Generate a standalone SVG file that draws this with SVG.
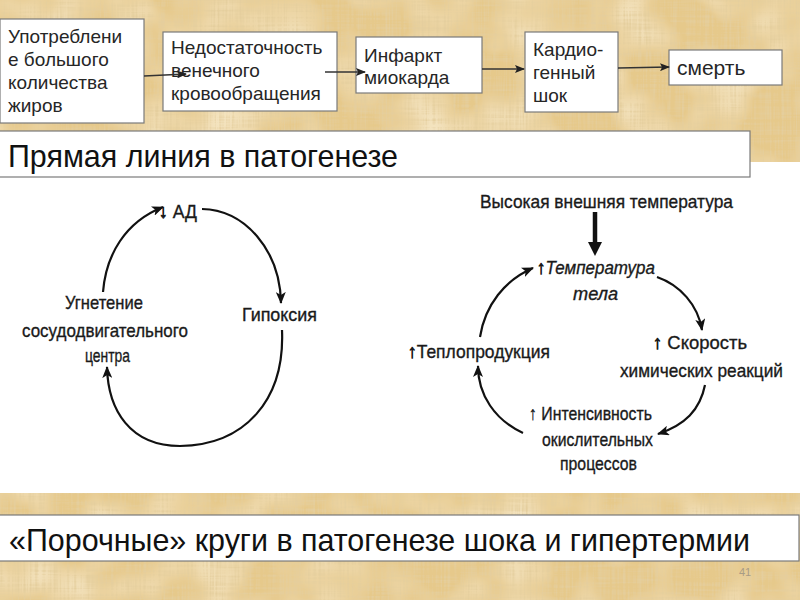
<svg xmlns="http://www.w3.org/2000/svg" width="800" height="600" viewBox="0 0 800 600">
<defs>
<filter id="papyrus" x="0" y="0" width="100%" height="100%" filterUnits="objectBoundingBox">
<feTurbulence type="fractalNoise" baseFrequency="0.5 0.015" numOctaves="3" seed="4" result="v"/>
<feTurbulence type="fractalNoise" baseFrequency="0.015 0.4" numOctaves="3" seed="9" result="h"/>
<feComposite in="v" in2="h" operator="arithmetic" k2="0.6" k3="0.45" result="n"/>
<feColorMatrix in="n" type="matrix" values="0 0 0 0 0.78  0 0 0 0 0.62  0 0 0 0 0.34  0 0 0 3.2 -1.45" result="fib"/>
<feTurbulence type="fractalNoise" baseFrequency="0.02 0.02" numOctaves="2" seed="2" result="p"/>
<feColorMatrix in="p" type="matrix" values="0 0 0 0 0.96  0 0 0 0 0.87  0 0 0 0 0.66  0 0 0 1.4 -0.55" result="light"/>
<feFlood flood-color="#e6c98b" result="base"/>
<feComposite in="light" in2="base" operator="over" result="b2"/>
<feComposite in="fib" in2="b2" operator="over"/>
</filter>
<marker id="ah" viewBox="0 0 12 10" refX="11" refY="5" markerWidth="12" markerHeight="10" markerUnits="userSpaceOnUse" orient="auto">
<path d="M0,0 L12,5 L0,10 L3,5 z" fill="#111"/>
</marker>
<marker id="sh" viewBox="0 0 10 8" refX="9" refY="4" markerWidth="10" markerHeight="8" markerUnits="userSpaceOnUse" orient="auto">
<path d="M0,0 L10,4 L0,8 L2,4 z" fill="#222"/>
</marker>
<style>
.box{fill:#fff;stroke:#7a7a7a;stroke-width:1.2}
.bt{font-family:"Liberation Sans",Arial,sans-serif;font-size:19px;fill:#262626}
.title{font-family:"Liberation Sans",Arial,sans-serif;font-size:32px;fill:#111}
.fig{font-family:"Liberation Sans Narrow","Liberation Sans",Arial,sans-serif;font-size:19px;fill:#1a1a1a;stroke:#1a1a1a;stroke-width:0.35}
.ar{font-family:"Liberation Sans",Arial,sans-serif;font-style:normal;font-weight:bold;stroke-width:0.8}
.it{font-style:italic}
.cyc{fill:none;stroke:#111;stroke-width:2.2;marker-end:url(#ah)}
.chain{fill:none;stroke:#333;stroke-width:1.6;marker-end:url(#sh)}
</style>
</defs>

<rect x="0" y="0" width="800" height="600" fill="#ffffff"/>
<rect x="0" y="0" width="800" height="162" filter="url(#papyrus)"/>
<rect x="0" y="493" width="800" height="107" filter="url(#papyrus)"/>

<g id="n1"><rect class="box" x="0" y="19" width="144" height="104"/>
<text class="bt" x="8" y="43">Употреблени</text>
<text class="bt" x="8" y="66">е большого</text>
<text class="bt" x="8" y="89">количества</text>
<text class="bt" x="8" y="112">жиров</text></g>

<g id="n2"><rect class="box" x="163" y="32" width="174" height="79"/>
<text class="bt" x="171" y="54">Недостаточность</text>
<text class="bt" x="171" y="77">венечного</text>
<text class="bt" x="171" y="100">кровообращения</text></g>

<g id="n3"><rect class="box" x="356" y="37" width="126" height="56"/>
<text class="bt" x="364" y="62">Инфаркт</text>
<text class="bt" x="364" y="84">миокарда</text></g>

<g id="n4"><rect class="box" x="525" y="32" width="93" height="80"/>
<text class="bt" x="533" y="56">Кардио-</text>
<text class="bt" x="533" y="79">генный</text>
<text class="bt" x="533" y="102">шок</text></g>

<g id="n5"><rect class="box" x="669" y="50" width="113" height="35"/>
<text class="bt" x="677" y="75" style="font-size:21px">смерть</text></g>

<g id="h1"><rect class="box" x="-1" y="131" width="751" height="46"/>
<text class="title" x="8" y="167" textLength="390" lengthAdjust="spacingAndGlyphs">Прямая линия в патогенезе</text></g>

<g id="h2"><rect class="box" x="-1" y="515" width="800" height="46"/>
<text class="title" x="9" y="551" textLength="741" lengthAdjust="spacingAndGlyphs">«Порочные» круги в патогенезе шока и гипертермии</text></g>

<text x="745" y="576" text-anchor="middle" style="font-family:'Liberation Sans',Arial,sans-serif;font-size:11px;fill:#a89c86">41</text>

<g id="s1"><text class="fig" x="159" y="218" textLength="38" lengthAdjust="spacingAndGlyphs"><tspan class="ar">↓</tspan> АД</text></g>
<g id="s2"><text class="fig" x="242" y="321" textLength="75" lengthAdjust="spacingAndGlyphs">Гипоксия</text></g>
<g id="s3">
<text class="fig" x="65" y="309" textLength="78" lengthAdjust="spacingAndGlyphs">Угнетение</text>
<text class="fig" x="22" y="337" textLength="166" lengthAdjust="spacingAndGlyphs">сосудодвигательного</text>
<text class="fig" x="85" y="362" textLength="45" lengthAdjust="spacingAndGlyphs">центра</text></g>

<g id="t0"><text class="fig" x="480" y="208" textLength="253" lengthAdjust="spacingAndGlyphs">Высокая внешняя температура</text></g>
<g id="t1"><text class="fig" x="537" y="274" textLength="118" lengthAdjust="spacingAndGlyphs"><tspan class="ar">↑</tspan><tspan class="it">Температура</tspan></text>
<text class="fig it" x="573" y="300" textLength="45" lengthAdjust="spacingAndGlyphs">тела</text></g>
<g id="t2"><text class="fig" x="653" y="349" textLength="94" lengthAdjust="spacingAndGlyphs"><tspan class="ar">↑</tspan> Скорость</text>
<text class="fig" x="620" y="377" textLength="163" lengthAdjust="spacingAndGlyphs">химических реакций</text></g>
<g id="t3"><text class="fig" x="529" y="420" textLength="123" lengthAdjust="spacingAndGlyphs">↑ Интенсивность</text>
<text class="fig" x="542" y="446" textLength="111" lengthAdjust="spacingAndGlyphs">окислительных</text>
<text class="fig" x="560" y="470" textLength="77" lengthAdjust="spacingAndGlyphs">процессов</text></g>
<g id="t4"><text class="fig" x="408" y="358" textLength="142" lengthAdjust="spacingAndGlyphs"><tspan class="ar">↑</tspan>Теплопродукция</text></g>

<g id="connectors">
<path class="chain" d="M144,76 L186,74"/>
<path class="chain" d="M325,72 L365,72"/>
<path class="chain" d="M482,69 L524,69"/>
<path class="chain" d="M618,68 L669,67"/>

<path class="cyc" d="M103,292 C106,255 125,222 163,207"/>
<path class="cyc" d="M202,209 C245,210 280,250 281,303"/>
<path class="cyc" d="M282,330 C285,400 245,445 180,446 C130,446 108,410 107,367"/>

<path d="M595,212 L595,244" stroke="#111" stroke-width="4.5" fill="none"/>
<path d="M588,242 L602,242 L595,256 z" fill="#111"/>
<path class="cyc" d="M657,277 C680,285 698,305 702,330"/>
<path class="cyc" d="M705,385 C700,410 685,425 658,434"/>
<path class="cyc" d="M523,433 C495,420 478,395 478,366"/>
<path class="cyc" d="M480,337 C485,305 505,280 533,268"/>
</g>
</svg>
